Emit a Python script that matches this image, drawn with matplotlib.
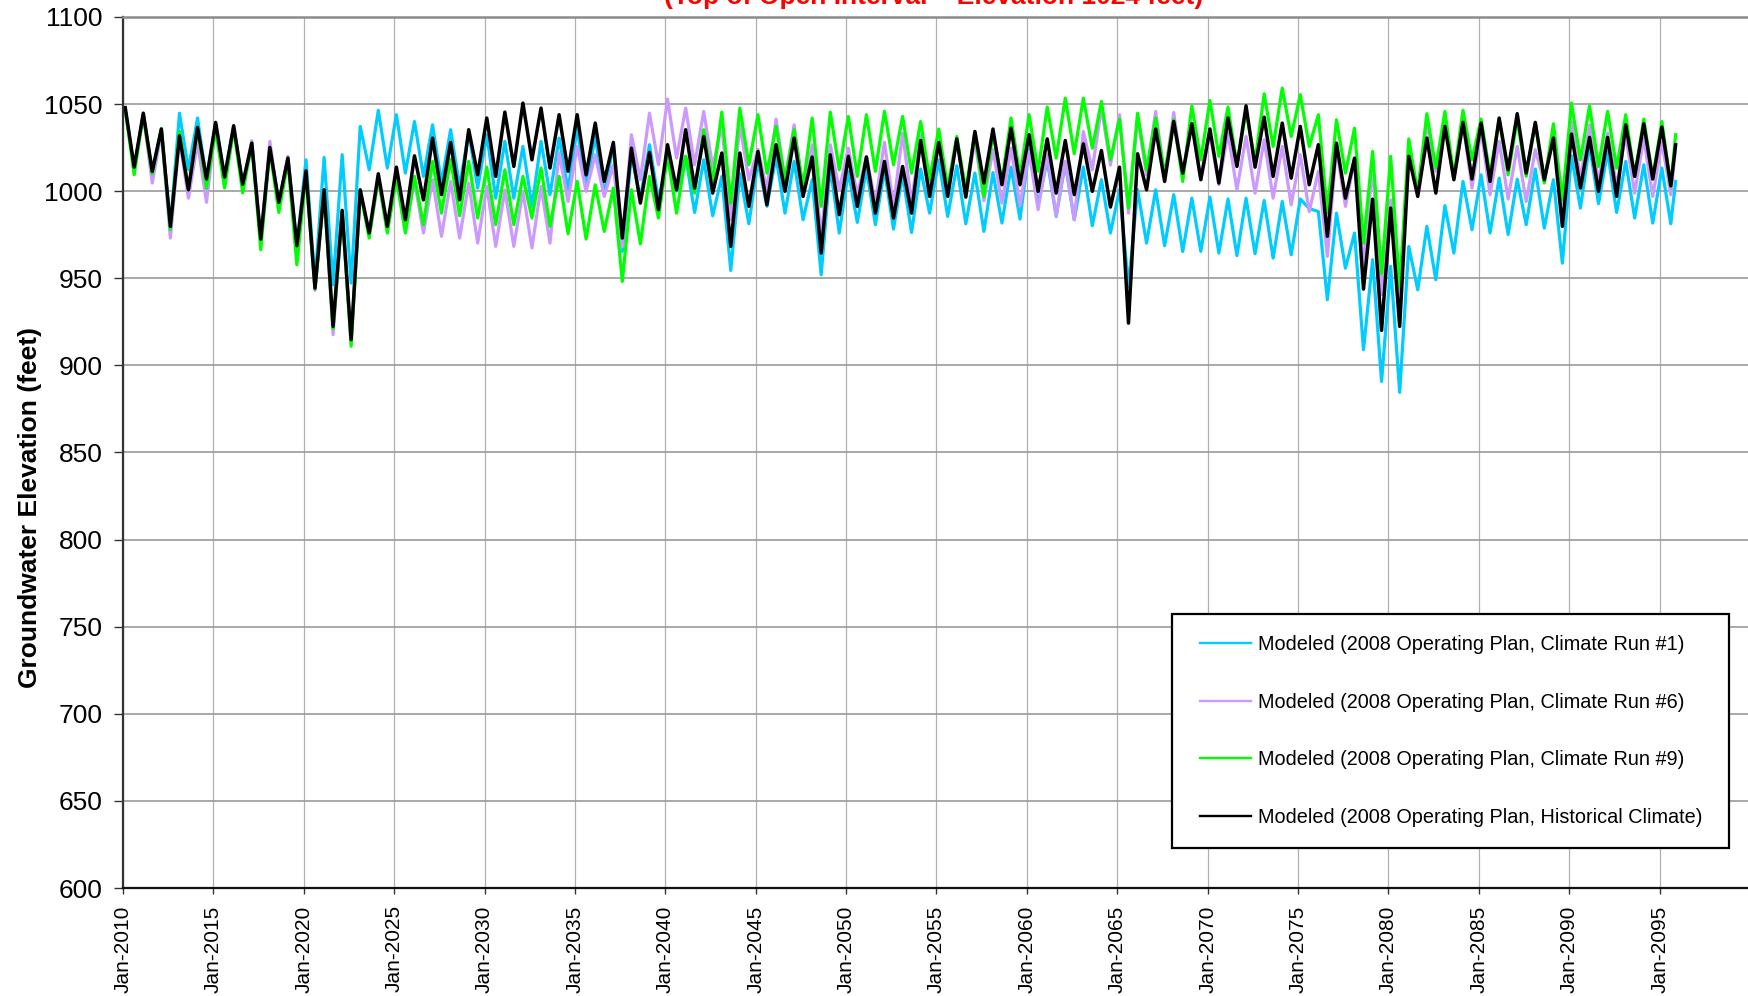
import matplotlib
matplotlib.use("Agg")
import matplotlib.pyplot as plt
import pandas as pd
from matplotlib.lines import Line2D
from matplotlib.patches import Rectangle

plt.rcParams['font.family'] = ['Liberation Sans', 'DejaVu Sans']

title = "(Top of Open Interval \u2013 Elevation 1024 feet)"
y_label = "Groundwater Elevation (feet)"
series_labels = [
    "Modeled (2008 Operating Plan, Climate Run #1)",
    "Modeled (2008 Operating Plan, Climate Run #6)",
    "Modeled (2008 Operating Plan, Climate Run #9)",
    "Modeled (2008 Operating Plan, Historical Climate)",
]

years = list(range(2010, 2096))

# annual high (late winter) and low (late summer) groundwater elevations, feet
run1_peak = [1047, 1044, 1035, 1044.8, 1042, 1039, 1037, 1028, 1025, 1019,
             1018, 1019.4, 1021, 1037.2, 1046.4, 1043.9, 1040, 1038.1, 1035.3, 1034,
             1032.4, 1028.6, 1025.7, 1028.6, 1030.5, 1036.2, 1031.4, 1026.7, 1021, 1026.7,
             1018, 1020, 1018, 1008.5, 1010, 1017.1, 1020, 1017.1, 1006.6, 1014.2,
             1011.4, 1012.7, 1012.3, 1009.4, 1012.7, 1018, 1014.6, 1010.4, 1010.7, 1013.8,
             1023.8, 1018, 1016.1, 1013.8, 1006.6, 1000.8, 1000.8, 1000.8, 998, 996,
             996.6, 995.5, 996, 994.7, 994.1, 995.5, 988.3, 987.4, 976, 960.7,
             956.9, 968.3, 979.8, 991.7, 1005.6, 1009.4, 1007.5, 1006.9, 1012.7, 1006.6,
             1020.3, 1026.7, 1022.8, 1017.1, 1015.2, 1013.3]
run1_low = [1013, 1011, 979, 1012.3, 1006, 1008, 1004, 972, 993, 968,
            948, 946.3, 947.3, 1012.3, 1013.3, 1010.4, 1008.5, 1004.7, 1002.7, 1001.8,
            996, 996, 991.3, 998, 1000.8, 1002.7, 998, 965.4, 996, 995,
            1000, 987.8, 985.9, 954.5, 981.3, 991.3, 987.4, 983.6, 952, 976,
            982.1, 980.8, 978.3, 976.3, 987.4, 985.5, 981.3, 976.9, 981.7, 984,
            992.2, 985.5, 983.6, 980.2, 976, 945.3, 970.2, 968.7, 965.4, 965.4,
            964.5, 963, 964.1, 961.6, 963.5, 990, 937.7, 955.8, 909, 890.8,
            884.5, 943.4, 949.2, 964.5, 977.9, 976, 975.1, 980.8, 978.8, 958.7,
            990.3, 992.8, 987.8, 984.6, 981.7, 981.3]
run1_end = 1005.6

run6_peak = [1047, 1044, 1034, 1030, 1028, 1038, 1036, 1029, 1028.6, 1020,
             1010, 1000, 988, 1000, 1006, 1007, 1006, 1006.6, 1005.6, 1004.7,
             1002.7, 1000.8, 999.9, 1002.7, 1021.9, 1025.7, 1020.9, 1015, 1032.4, 1044.8,
             1052.9, 1047.7, 1045.8, 1038.1, 1038.1, 1024, 1041.4, 1038.1, 1026.7, 1026.7,
             1024.7, 1020, 1028, 1033.4, 1032.4, 1028, 1030, 1029.5, 1023.8, 1024.7,
             1022.8, 1020.9, 1017.1, 1034.3, 1048, 1043.9, 1042, 1045.8, 1045.2, 1039,
             1033, 1033.4, 1031.4, 1029.5, 1025.7, 1020.9, 1011.4, 1025, 1018, 1014.2,
             995, 1022.8, 1039.1, 1040, 1039.1, 1035.3, 1028.6, 1025.7, 1023.8, 1035.7,
             1040, 1038.1, 1033.4, 1032.4, 1030.5, 1028]
run6_low = [1013, 1004.7, 973.1, 996, 993.6, 1004, 1002, 972, 992, 966,
            943, 917.6, 914, 975, 978, 977, 976, 974.1, 973.1, 970.2,
            968.3, 968.3, 967.4, 970.2, 994.1, 999.9, 997, 968, 1006.6, 1015.2,
            1019, 1015.2, 1013.8, 983.6, 1006.6, 1000.8, 1006.6, 1000.8, 974.1, 1000.8,
            998, 993.2, 991.3, 993.2, 1002.7, 998, 997, 994.5, 993.2, 991.7,
            989.4, 985.9, 983.6, 1012.3, 1015, 987.4, 1009.4, 1008.5, 1008.5, 1006.6,
            1003.7, 1000.8, 998.9, 996, 992.2, 988.3, 962.6, 991.3, 956.8, 940.6,
            936.8, 1000.8, 1011.4, 1006.6, 1001.8, 998, 995.5, 994.1, 1005, 993.2,
            1007.5, 1005.6, 1002.7, 998.9, 997, 998]
run6_end = 1025

run9_peak = [1047, 1044, 1036, 1034.3, 1036, 1035.3, 1036, 1027, 1024, 1017,
             1010, 1000, 988, 1000, 1008, 1007.5, 1008.5, 1017.1, 1018.4, 1017.1,
             1013.8, 1012.3, 1008.5, 1013.3, 1008.5, 1005.6, 1003.7, 1001.8, 1000.8, 1008.5,
             1020.9, 1020, 1035.3, 1045.4, 1047.7, 1043.9, 1037.2, 1035.3, 1042, 1045.4,
             1042.9, 1043.9, 1045.8, 1042.9, 1040, 1035.7, 1031.4, 1033.4, 1033, 1042,
             1043.9, 1048.3, 1053.4, 1053.4, 1051.5, 1041.4, 1044.8, 1042, 1041, 1049,
             1052.1, 1048.3, 1045.8, 1055.9, 1059.2, 1055.4, 1043.9, 1041, 1036.2, 1022.8,
             1020, 1030, 1044.5, 1045.8, 1046.4, 1041.4, 1041.4, 1041, 1039.1, 1038.7,
             1050.6, 1049, 1045.8, 1043.9, 1041.4, 1040]
run9_low = [1009.4, 1010, 978, 1001, 1001.8, 1001.8, 999, 966.4, 987.8, 957.8,
            944, 921, 911, 973.1, 976, 976, 980.8, 987.4, 985.9, 984.6,
            980.8, 980.8, 984.6, 979.8, 975.6, 972.5, 976.9, 948.2, 969.8, 984.6,
            987.4, 998.9, 1005.6, 993.2, 1015.2, 1010.4, 1006.6, 1002.7, 991.3, 1012.3,
            1008.5, 1011.4, 1015.2, 1010.4, 1006.6, 1002, 1000.8, 997, 1005.6, 1008.5,
            1011.4, 1019, 1021.5, 1024.7, 1018, 990.3, 1012.3, 1009.4, 1005.6, 1018,
            1020, 1015.2, 1017, 1025.7, 1031.4, 1025.7, 987.7, 1010.4, 970.2, 952.9,
            944.4, 998.9, 1013.3, 1008.5, 1018, 1009.4, 1009.4, 1008.5, 1004.7, 995,
            1018, 1014.2, 1013.3, 1008.5, 1007.5, 1002.7]
run9_end = 1032.4

hist_peak = [1048, 1044.8, 1035.7, 1031.8, 1036.6, 1039.5, 1037.6, 1027.6, 1025.1, 1019,
             1011.7, 1000.8, 989, 1000.8, 1010, 1013.8, 1020.3, 1030.5, 1028, 1035.3,
             1042, 1045.4, 1050.6, 1047.7, 1043.9, 1043.9, 1039.1, 1028, 1024.7, 1022.3,
             1026.7, 1035.3, 1031.4, 1021.9, 1021.9, 1022.8, 1026.7, 1030.5, 1019.6, 1020.9,
             1020, 1019.6, 1017.1, 1014.2, 1029.1, 1028, 1030, 1034.3, 1035.7, 1036.2,
             1032.4, 1030, 1029.1, 1027.2, 1023.4, 1013.8, 1021.5, 1035.7, 1040, 1038.7,
             1035.7, 1042, 1049, 1042.5, 1039.1, 1037.2, 1026.7, 1027.6, 1019, 995.4,
             990.3, 1020, 1030.5, 1037.2, 1039.5, 1039.1, 1042, 1044.5, 1039.5, 1030.5,
             1032.8, 1030.9, 1030.9, 1038.1, 1038.7, 1036.8]
hist_low = [1013.8, 1011.4, 979.8, 1000.8, 1007, 1008.1, 1004, 972.5, 993.6, 968.7,
            944.4, 922.4, 914.8, 976, 979.8, 983.6, 995, 998, 995, 1009.4,
            1008.5, 1014.2, 1018, 1013.3, 1011.4, 1009.4, 1005.6, 973.1, 993.2, 989.4,
            1000.8, 1001.8, 998.9, 968.3, 991.3, 992.2, 999.9, 997, 964.5, 986.5,
            991.3, 987.4, 984.6, 987.4, 997, 997, 996.6, 1004.7, 1003.7, 1003.7,
            999.9, 998.9, 998, 999.9, 990.9, 924.3, 1000.8, 1005.6, 1010.4, 1006.6,
            1004.7, 1014.2, 1013.8, 1008.5, 1007.5, 1003.7, 974.1, 996, 943.8, 920.1,
            922.4, 997, 998.9, 1006.6, 1007, 1005.6, 1012.3, 1010.4, 1006.6, 979.8,
            1001.8, 999.9, 997, 1008.5, 1007, 1003.1]
hist_end = 1026.7

colors = ['#00CCFF', '#CC99FF', '#00FF00', '#000000']


def build(peaks, lows, end):
    dates, vals = [], []
    for y, p, t in zip(years, peaks, lows):
        dates.append(pd.Timestamp(y, 2, 15))
        vals.append(p)
        dates.append(pd.Timestamp(y, 8, 15))
        vals.append(t)
    dates.append(pd.Timestamp(2095, 11, 20))
    vals.append(end)
    return dates, vals


series = [build(run1_peak, run1_low, run1_end),
          build(run6_peak, run6_low, run6_end),
          build(run9_peak, run9_low, run9_end),
          build(hist_peak, hist_low, hist_end)]

fig = plt.figure(figsize=(17.48, 9.96), dpi=100)
W, H = 1748, 996
ax = fig.add_axes([123 / W, 1 - 888 / H, (1750 - 123) / W, (888 - 17) / H])

for (d, v), c, lab in zip(series, colors, series_labels):
    ax.plot(d, v, color=c, lw=2.3 if c != '#000000' else 2.5,
            solid_joinstyle='round', label=lab)

ax.set_ylim(600, 1100)
ax.set_yticks(list(range(600, 1101, 50)))
ax.set_xlim(pd.Timestamp(2010, 1, 1), pd.Timestamp(2100, 1, 1))
xt = [pd.Timestamp(y, 1, 1) for y in range(2010, 2096, 5)]
ax.set_xticks(xt)
ax.set_xticklabels([t.strftime('%b-%Y') for t in xt], rotation=90, ha='center',
                   va='top', fontsize=15)
ax.tick_params(axis='y', labelsize=19, length=6.5, width=1.0, pad=8,
               color='#333333', direction='out')
ax.tick_params(axis='x', length=4.5, width=1.0, pad=8, color='#333333',
               direction='out')

ax.grid(axis='y', color='#9a9a9a', lw=1.2)
ax.grid(axis='x', color='#b0b0b0', lw=0.9)
ax.set_axisbelow(True)

ax.spines['right'].set_visible(False)
ax.spines['top'].set_color('#8a8a8a')
ax.spines['top'].set_linewidth(1.8)
ax.spines['left'].set_color('#333333')
ax.spines['left'].set_linewidth(1.6)
ax.spines['bottom'].set_color('#111111')
ax.spines['bottom'].set_linewidth(1.6)

# legend box
box = Rectangle((1171.7 / W, 1 - 848.4 / H), (1729.1 - 1171.7) / W,
                (848.4 - 614.3) / H, transform=fig.transFigure,
                facecolor='white', edgecolor='black', lw=1.6, zorder=5)
fig.add_artist(box)

handles = [Line2D([], [], color=c, lw=1.7) for c in colors]
leg = fig.legend(handles, series_labels, loc='upper left',
                 bbox_to_anchor=(1199.6 / W, 1 - 635.3 / H),
                 bbox_transform=fig.transFigure, borderaxespad=0,
                 fontsize=14.35, frameon=False, borderpad=0,
                 labelspacing=1.93, handlelength=2.57, handletextpad=0.34)
leg.set_zorder(6)

fig.text(934 / W, 1 - 4 / H, title, color='#FF0000', fontweight='bold',
         fontsize=19, ha='center', va='baseline')
fig.text(30 / W, 1 - 507 / H, y_label, rotation=90, fontweight='bold',
         fontsize=19, ha='center', va='center')

fig.savefig('out.png', dpi=100)
